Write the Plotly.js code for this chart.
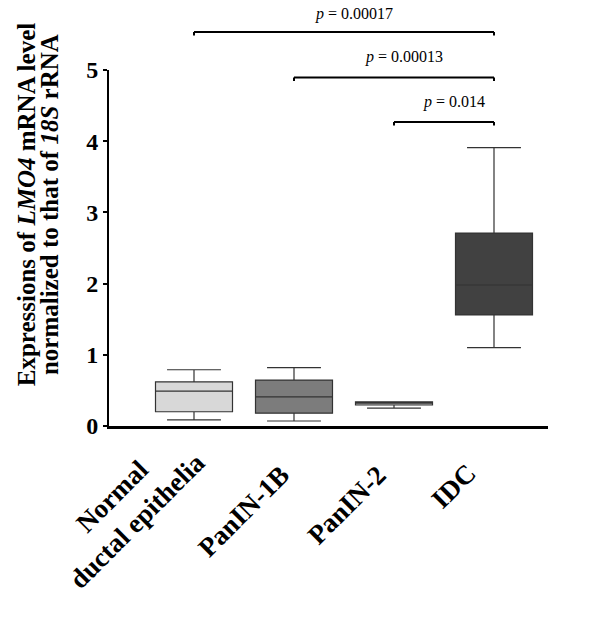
<!DOCTYPE html>
<html>
<head>
<meta charset="utf-8">
<script src="https://cdn.plot.ly/plotly-3.0.1.min.js"></script>
<style>html,body{margin:0;padding:0;background:#fff;}#chart{width:600px;height:640px;}</style>
</head>
<body>
<div id="chart"></div>
<script>
// Categories and box statistics
const categories = ["Normal<br>ductal epithelia", "PanIN-1B", "PanIN-2", "IDC"];
const lowerWhisker = [0.085, 0.07, 0.25, 1.10];
const q1Values     = [0.20, 0.18, 0.295, 1.56];
const medianValues = [0.49, 0.41, 0.32, 1.98];
const q3Values     = [0.62, 0.645, 0.34, 2.71];
const upperWhisker = [0.79, 0.82, 0.34, 3.91];
const boxColors    = ["#d8d8d8", "#7c7c7c", "#bdbdbd", "#414141"];

// Significance comparisons: [from index, to index, label]
const compFrom  = [0, 1, 2];
const compTo    = [3, 3, 3];
const compLabel = ["0.00017", "0.00013", "0.014"];

// Y-axis title lines
const yTitleLines = ["<b>Expressions of <i>LMO4</i> mRNA level</b>", "<b>normalized to that of <i>18S</i> rRNA</b>"];

// Layout-only placement (paper fractions / pixel shifts)
const bracketY  = [1.107, 0.979, 0.854];
const labelY    = [1.157, 1.037, 0.910];
const xLabelShiftX = [-69, -50, -47, -40];
const xLabelY      = [-0.233, -0.239, -0.222, -0.169];

const serif = "Liberation Serif, Times New Roman, serif";

const traces = categories.map((c, i) => ({
  type: "box",
  x: [c],
  q1: [q1Values[i]],
  median: [medianValues[i]],
  q3: [q3Values[i]],
  lowerfence: [lowerWhisker[i]],
  upperfence: [upperWhisker[i]],
  fillcolor: boxColors[i],
  line: {color: "#333333", width: 1.2},
  whiskerwidth: 0.7,
  width: 0.77,
  boxpoints: false,
  hoverinfo: "skip",
  showlegend: false
}));

const shapes = [];
const annotations = [];
compFrom.forEach((f, k) => {
  const t = compTo[k];
  const y = bracketY[k];
  shapes.push({type: "line", xref: "x", yref: "paper", x0: categories[f], x1: categories[t], y0: y, y1: y, line: {color: "#000", width: 2}});
  shapes.push({type: "line", xref: "x", yref: "paper", x0: categories[f], x1: categories[f], y0: y, y1: y - 0.01, line: {color: "#000", width: 2}});
  shapes.push({type: "line", xref: "x", yref: "paper", x0: categories[t], x1: categories[t], y0: y, y1: y - 0.01, line: {color: "#000", width: 2}});
  annotations.push({
    xref: "x", yref: "paper", x: (f + t) / 2, y: labelY[k], xshift: 10,
    text: "<i>p</i> = " + compLabel[k], showarrow: false,
    font: {family: serif, size: 16, color: "#000"}, xanchor: "center", yanchor: "middle"
  });
});

categories.forEach((c, i) => {
  annotations.push({
    xref: "x", yref: "paper", x: c, y: xLabelY[i], xshift: xLabelShiftX[i],
    text: "<b>" + c.split("<br>").join("</b><br><b>") + "</b>",
    textangle: -45, showarrow: false, align: "center",
    font: {family: serif, size: 27, color: "#000"},
    xanchor: "center", yanchor: "middle"
  });
});

const titleX = [-0.186, -0.134];
yTitleLines.forEach((txt, i) => {
  annotations.push({
    xref: "paper", yref: "paper", x: titleX[i], y: 0.621,
    text: txt, textangle: -90, showarrow: false,
    font: {family: serif, size: 25, color: "#000"},
    xanchor: "center", yanchor: "middle"
  });
});

const layout = {
  width: 600, height: 640,
  margin: {l: 109, r: 52, t: 70, b: 214},
  paper_bgcolor: "#fff", plot_bgcolor: "#fff",
  boxmode: "overlay",
  showlegend: false,
  xaxis: {
    type: "category",
    range: [-0.85, 3.54],
    showgrid: false, zeroline: false,
    showline: true, linecolor: "#000", linewidth: 2.5,
    ticks: "", showticklabels: false
  },
  yaxis: {
    range: [0, 5],
    tickvals: [0, 1, 2, 3, 4, 5],
    showgrid: false, zeroline: false,
    showline: true, linecolor: "#000", linewidth: 2,
    ticks: "outside", ticklen: 4, tickwidth: 2, tickcolor: "#000",
    tickfont: {family: serif, size: 24, color: "#000", weight: "bold"}
  },
  shapes: shapes,
  annotations: annotations
};

Plotly.newPlot("chart", traces, layout, {displayModeBar: false, staticPlot: true});
</script>
</body>
</html>
